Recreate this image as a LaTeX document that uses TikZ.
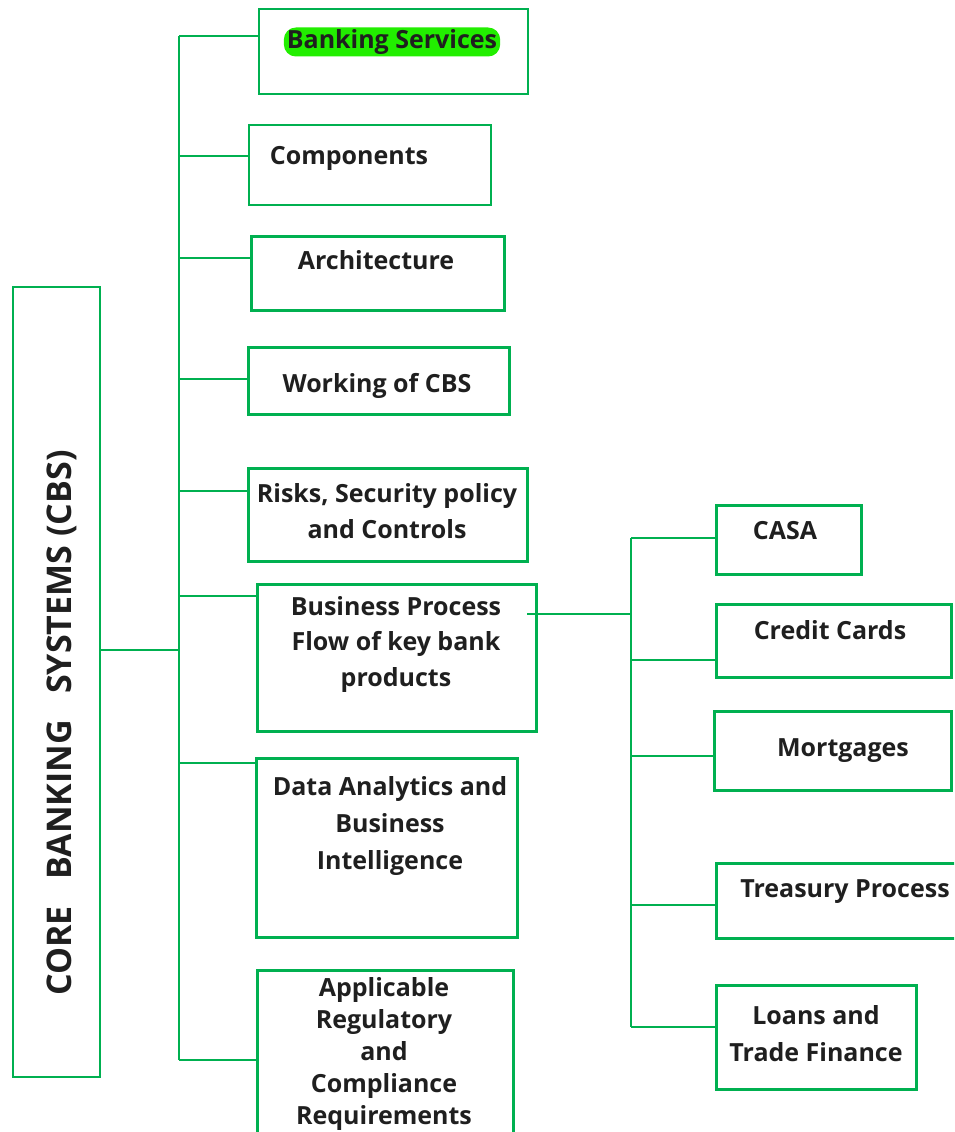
\documentclass[tikz,border=0pt]{standalone}
\usepackage{fontspec}
\setmainfont{Open Sans}
\definecolor{cbsgreen}{RGB}{0,176,80}
\definecolor{hlgreen}{RGB}{34,238,0}
\tikzset{
  box/.style={draw=cbsgreen, line width=3.2pt, anchor=north west, inner sep=0pt},
  txt/.style={font=\bfseries\fontsize{25}{36}\selectfont, align=center, text=black!88, inner sep=0pt},
  link/.style={draw=cbsgreen, line width=2.6pt},
}
\begin{document}
\begin{tikzpicture}[x=1pt,y=-1pt]
  \useasboundingbox (0,0) rectangle (954,1132);
  \clip (0,0) rectangle (954,1132);
  % main box
  \node[box, line width=1.8pt, minimum width=87, minimum height=790] (cbs) at (12,286) {};
  \node[txt, font=\bfseries\fontsize{34}{40}\selectfont, rotate=90] (cbs-t) at (62,723) {CORE\ \ \ BANKING\ \ \ SYSTEMS (CBS)};
  % left column boxes
  \node[box, line width=2.4pt, minimum width=269, minimum height=85] (bank) at (258,8) {};
  \node[box, line width=2.4pt, minimum width=242, minimum height=80] (comp) at (248,124) {};
  \node[box, minimum width=253, minimum height=74] (arch) at (250,235) {};
  \node[box, minimum width=261, minimum height=67] (work) at (247,346) {};
  \node[box, minimum width=279, minimum height=93] (risk) at (247,467) {};
  \node[box, minimum width=279, minimum height=147] (bpf) at (256,583) {};
  \node[box, minimum width=261, minimum height=179] (data) at (255,757) {};
  \node[box, minimum width=256, minimum height=200] (appl) at (256,969) {};
  % right column boxes
  \node[box, minimum width=145, minimum height=69] (casa) at (715,504) {};
  \node[box, minimum width=235, minimum height=73] (card) at (715,603) {};
  \node[box, minimum width=237, minimum height=79] (mort) at (713,710) {};
  \node[box, minimum width=260, minimum height=75] (treas) at (715,862) {};
  \node[box, minimum width=200, minimum height=104] (loan) at (715,984) {};
  % texts
  \node[txt, fill=hlgreen, rounded corners=12pt, inner xsep=3pt, inner ysep=2pt] (bank-t) at (392,42) {Banking Services};
  \node[txt] (comp-t) at (349,158) {Components};
  \node[txt] (arch-t) at (376,260) {Architecture};
  \node[txt] (work-t) at (377,386) {Working of CBS};
  \node[txt] (risk-t) at (387,511) {Risks, Security policy\\and Controls};
  \node[txt, font=\bfseries\fontsize{25}{35.5}\selectfont] (bpf-t) at (396,644) {Business Process\\Flow of key bank\\products};
  \node[txt, font=\bfseries\fontsize{25}{37}\selectfont] (data-t) at (390,826) {Data Analytics and\\Business\\Intelligence};
  \node[txt, font=\bfseries\fontsize{25}{32}\selectfont] (appl-t) at (384,1054) {Applicable\\Regulatory\\and\\Compliance\\Requirements};
  \node[txt] (casa-t) at (785,531) {CASA};
  \node[txt] (card-t) at (830,630) {Credit Cards};
  \node[txt] (mort-t) at (843,751) {Mortgages};
  \node[txt] (treas-t) at (845,892) {Treasury Process};
  \node[txt, font=\bfseries\fontsize{25}{37}\selectfont] (loan-t) at (816,1034) {Loans and\\Trade Finance};
  % left trunk
  \coordinate (lt-top) at (179,36);
  \coordinate (lt-bot) at (179,1060);
  \draw[link] (lt-top) -- (lt-bot);
  \draw[link] (cbs.east |- 0,650) coordinate (cbs-out) -- (cbs-out -| lt-top);
  \foreach \n/\y in {bank/36, comp/156, arch/258, work/379, risk/491, bpf/596, data/763, appl/1060}
    \draw[link] (179,\y) coordinate (j-\n) -- (j-\n -| \n.west);
  % right trunk
  \coordinate (rt-top) at (631,538);
  \coordinate (rt-bot) at (631,1027);
  \draw[link] (rt-top) -- (rt-bot);
  \draw[link] (527,614) coordinate (bpf-out) -- (bpf-out -| rt-top);
  \foreach \n/\y in {casa/538, card/660, mort/756, treas/905, loan/1027}
    \draw[link] (631,\y) coordinate (k-\n) -- (k-\n -| \n.west);
\end{tikzpicture}
\end{document}
